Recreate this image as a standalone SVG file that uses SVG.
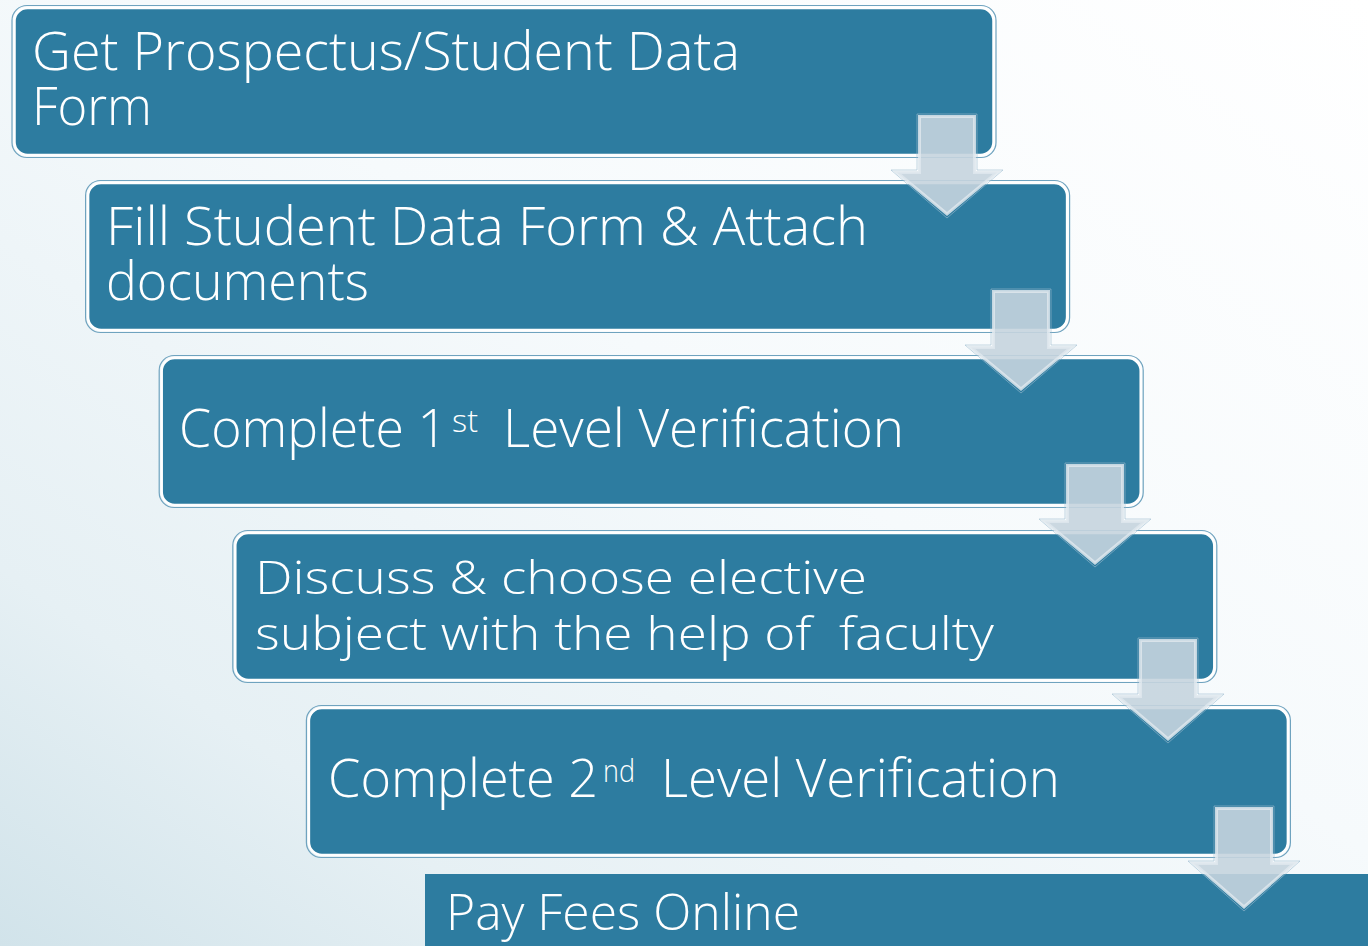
<svg xmlns="http://www.w3.org/2000/svg" width="1368" height="946" viewBox="0 0 1368 946">
<defs>
<linearGradient id="bg" x1="1" y1="0" x2="0" y2="1">
<stop offset="0" stop-color="#ffffff"/>
<stop offset="0.45" stop-color="#f6fafc"/>
<stop offset="0.8" stop-color="#e6f0f4"/>
<stop offset="1" stop-color="#d1e3ea"/>
</linearGradient>
<style>
.outer{fill:none;stroke:#6fa3bf;stroke-width:1.2}
.box{fill:#2d7ca0;stroke:#ffffff;stroke-width:2.5}
.t{font-family:"Open Sans","Liberation Sans",sans-serif;font-weight:300;fill:#ffffff;font-size:53px;white-space:pre}
.t4{font-size:46px}
.sup{font-size:32px}
.arr{fill:#c5d4de;fill-opacity:0.9;stroke:#dfe7ed;stroke-opacity:0.85;stroke-width:3;stroke-linejoin:miter}
.arro{fill:none;stroke:#9dbdd0;stroke-opacity:0.6;stroke-width:1}
</style>
</defs>
<rect x="0" y="0" width="1368" height="946" fill="url(#bg)"/>

<g id="node1">
<rect class="outer" x="12" y="5.5" width="984" height="152" rx="15"/>
<rect class="box" x="14.5" y="8" width="979" height="147" rx="13"/>
<text class="t"><tspan x="32" y="70" textLength="708" lengthAdjust="spacingAndGlyphs">Get Prospectus/Student Data</tspan><tspan x="32" y="125" textLength="120" lengthAdjust="spacingAndGlyphs">Form</tspan></text>
</g>

<g id="node2">
<rect class="outer" x="85.6" y="180.5" width="984" height="152" rx="15"/>
<rect class="box" x="88.1" y="183" width="979" height="147" rx="13"/>
<text class="t"><tspan x="106" y="245" textLength="762" lengthAdjust="spacingAndGlyphs">Fill Student Data Form &amp; Attach</tspan><tspan x="106" y="300" textLength="263" lengthAdjust="spacingAndGlyphs">documents</tspan></text>
</g>

<g id="node3">
<rect class="outer" x="159.2" y="355.5" width="984" height="152" rx="15"/>
<rect class="box" x="161.7" y="358" width="979" height="147" rx="13"/>
<text class="t"><tspan x="179" y="447" textLength="268" lengthAdjust="spacingAndGlyphs">Complete 1</tspan><tspan class="sup" x="452" y="432" textLength="26" lengthAdjust="spacingAndGlyphs">st</tspan><tspan x="503" y="447" textLength="401" lengthAdjust="spacingAndGlyphs">Level Verification</tspan></text>
</g>

<g id="node4">
<rect class="outer" x="232.8" y="530.5" width="984" height="152" rx="15"/>
<rect class="box" x="235.3" y="533" width="979" height="147" rx="13"/>
<text class="t t4"><tspan x="255" y="594" textLength="612" lengthAdjust="spacingAndGlyphs">Discuss &amp; choose elective</tspan><tspan x="255" y="650" textLength="739" lengthAdjust="spacingAndGlyphs">subject with the help of  faculty</tspan></text>
</g>

<g id="node5">
<rect class="outer" x="306.4" y="705.5" width="984" height="152" rx="15"/>
<rect class="box" x="308.9" y="708" width="979" height="147" rx="13"/>
<text class="t"><tspan x="328" y="797" textLength="270" lengthAdjust="spacingAndGlyphs">Complete 2</tspan><tspan class="sup" x="603" y="782" textLength="32" lengthAdjust="spacingAndGlyphs">nd</tspan><tspan x="661" y="797" textLength="399" lengthAdjust="spacingAndGlyphs">Level Verification</tspan></text>
</g>

<g id="node6">
<rect x="425" y="874" width="943" height="72" fill="#2d7ca0"/>
<text class="t" style="font-size:49px"><tspan x="446" y="930" textLength="354" lengthAdjust="spacingAndGlyphs">Pay Fees Online</tspan></text>
</g>

<g id="connectors">
<polygon class="arro" points="917,114 977,114 977,170 1003,170 947,218 891,170 917,170"/>
<polygon class="arr" points="919.5,116.5 974.5,116.5 974.5,172.5 997,172.5 947,214 897,172.5 919.5,172.5"/>

<polygon class="arro" points="991,289 1051,289 1051,345 1077,345 1021,393 965,345 991,345"/>
<polygon class="arr" points="993.5,291.5 1048.5,291.5 1048.5,347.5 1071,347.5 1021,389 971,347.5 993.5,347.5"/>

<polygon class="arro" points="1065,463 1125,463 1125,519 1151,519 1095,567 1039,519 1065,519"/>
<polygon class="arr" points="1067.5,465.5 1122.5,465.5 1122.5,521.5 1145,521.5 1095,563 1045,521.5 1067.5,521.5"/>

<polygon class="arro" points="1138,638 1198,638 1198,694 1224,694 1168,743 1112,694 1138,694"/>
<polygon class="arr" points="1140.5,640.5 1195.5,640.5 1195.5,696.5 1218,696.5 1168,739 1118,696.5 1140.5,696.5"/>

<polygon class="arro" points="1214,806 1274,806 1274,861 1300,861 1244,911 1188,861 1214,861"/>
<polygon class="arr" points="1216.5,808.5 1271.5,808.5 1271.5,863.5 1294,863.5 1244,907 1194,863.5 1216.5,863.5"/>
</g>
</svg>
